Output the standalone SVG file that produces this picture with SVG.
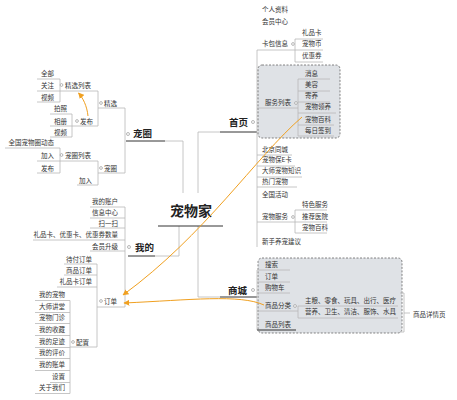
<svg xmlns="http://www.w3.org/2000/svg" width="457" height="400" viewBox="0 0 457 400">
<style>
text{font-family:"Noto Sans CJK SC","Noto Sans",sans-serif;fill:#333;font-size:6.5px}
.e{text-anchor:end}
.b{font-size:9.5px;font-weight:bold;fill:#222}
.c{font-size:14px;font-weight:bold;fill:#222;text-anchor:middle}
.l{stroke:#b8b8b8;stroke-width:0.8;fill:none}
.d{stroke:#333;stroke-width:1;fill:none}
.m{fill:#fff;stroke:#888;stroke-width:0.6}
.box{fill:#dfe2e6;stroke:#666;stroke-width:0.8;stroke-dasharray:2 1.5}
.o{stroke:#f0a020;stroke-width:1;fill:none;marker-end:url(#ah)}
</style>
<defs>
<marker id="ah" viewBox="0 0 10 10" refX="9" refY="5" markerWidth="6" markerHeight="6" orient="auto">
<path d="M0 0 L10 5 L0 10 z" fill="#f0a020"/>
</marker>
</defs>
<rect width="457" height="400" fill="#fff"/>

<g id="connectors">
<path class="l" d="M165 141 H183 V193"/>
<path class="l" d="M198 193 V132 H220"/>
<path class="l" d="M155 256 H179 V226"/>
<path class="l" d="M198 226 V297 H220"/>
</g>

<g id="center">
<text class="c" x="191" y="216">宠物家</text>
<line class="d" x1="158" y1="226" x2="223" y2="226" stroke-width="1.5"/>
</g>

<g id="chongquan">
<text class="b" x="133" y="137">宠圈</text>
<line class="d" x1="126" y1="141" x2="165" y2="141"/>
<circle class="m" cx="128" cy="134" r="1.5"/>
<path class="l" d="M125 108 V173"/>
<text x="104" y="105.5">精选</text><circle class="m" cx="101" cy="103" r="1.4"/>
<path class="l" d="M98 108 H125 M98 91 V126"/>
<text x="65" y="87.5">精选列表</text><circle class="m" cx="61.5" cy="85" r="1.4"/>
<path class="l" d="M60 91 H98"/>
<text class="e" x="54" y="75.5">全部</text>
<text class="e" x="54" y="87.5">关注</text>
<text class="e" x="54" y="99.5">视频</text>
<path class="l" d="M37 79 H60 M37 91 H60 M37 102 H60 M60 79 V102"/>
<text x="80" y="123.5">发布</text><circle class="m" cx="77" cy="121" r="1.4"/>
<path class="l" d="M72 126 H98"/>
<text class="e" x="67" y="110.5">拍照</text>
<text class="e" x="67" y="123.5">相册</text>
<text class="e" x="67" y="134.5">视频</text>
<path class="l" d="M50 114 H72 M50 126 H72 M50 137 H72 M72 114 V137"/>
<text x="104" y="170.5">宠圈</text><circle class="m" cx="101" cy="168" r="1.4"/>
<path class="l" d="M98 173 H125 M98 161 V185"/>
<text x="65" y="157.5">宠圈列表</text><circle class="m" cx="61.5" cy="155" r="1.4"/>
<path class="l" d="M60 161 H98"/>
<text class="e" x="92" y="182.5">加入</text>
<path class="l" d="M77 185 H98"/>
<text class="e" x="54" y="144.5">全国宠物圈动态</text>
<text class="e" x="54" y="157.5">加入</text>
<text class="e" x="54" y="170.5">发布</text>
<path class="l" d="M5 148 H60 M37 161 H60 M37 173 H60 M60 148 V173"/>
</g>

<g id="wode">
<text class="b" x="135" y="251">我的</text>
<line class="d" x1="128" y1="256" x2="155" y2="256"/>
<circle class="m" cx="129" cy="247" r="1.5"/>
<path class="l" d="M125 207 V307"/>
<text class="e" x="118" y="203.5">我的账户</text>
<text class="e" x="118" y="214.5">信息中心</text>
<text class="e" x="118" y="225.5">扫一扫</text>
<text class="e" x="118" y="236.5">礼品卡、优惠卡、优惠券数量</text>
<text class="e" x="118" y="248.5">会员升级</text>
<path class="l" d="M90 207 H125 M90 218 H125 M90 228 H125 M33 240 H125 M90 251 H125"/>
<text x="104" y="303.5">订单</text><circle class="m" cx="101" cy="301" r="1.4"/>
<path class="l" d="M97 307 H125"/>
<text class="e" x="92" y="261.5">待付订单</text>
<text class="e" x="92" y="272.5">商品订单</text>
<text class="e" x="92" y="283.5">礼品卡订单</text>
<path class="l" d="M64 264 H97 M64 275 H97 M57 287 H97 M97 264 V347"/>
<text x="76" y="344.5">配置</text><circle class="m" cx="73" cy="342" r="1.4"/>
<path class="l" d="M70 347 H97"/>
<text class="e" x="65" y="297.3">我的宠物</text>
<text class="e" x="65" y="309.3">大师讲堂</text>
<text class="e" x="65" y="320.3">宠物门诊</text>
<text class="e" x="65" y="332.3">我的收藏</text>
<text class="e" x="65" y="344.3">我的足迹</text>
<text class="e" x="65" y="355.3">我的评价</text>
<text class="e" x="65" y="367.3">我的账单</text>
<text class="e" x="65" y="379.3">设置</text>
<text class="e" x="65" y="390.3">关于我们</text>
<path class="l" d="M35 300.5 H70 M35 312.5 H70 M35 323.5 H70 M35 335.5 H70 M35 347.5 H70 M35 358.5 H70 M35 370.5 H70 M50 382.5 H70 M35 393.5 H70 M70 300.5 V393.5"/>
</g>

<g id="shouye">
<text class="b" x="229" y="126">首页</text>
<line class="d" x1="220" y1="132" x2="257" y2="132"/>
<circle class="m" cx="253" cy="122" r="1.5"/>
<path class="l" d="M257 50 V247"/>
<text x="262" y="12.3">个人资料</text>
<text x="262" y="24.3">会员中心</text>
<text x="262" y="46.3">卡包信息</text><circle class="m" cx="293" cy="44" r="1.4"/>
<path class="l" d="M257 50 H295"/>
<text x="302" y="35.3">礼品卡</text>
<text x="302" y="46.3">宠物币</text>
<text x="302" y="58.3">优惠券</text>
<path class="l" d="M295 39 H323 M295 50 H323 M295 62 H323 M295 39 V62"/>
<rect class="box" x="258" y="65" width="82" height="73" rx="4"/>
<text x="265" y="105.3">服务列表</text><circle class="m" cx="296" cy="103" r="1.4"/>
<path class="l" d="M257 108 H298"/>
<text x="305" y="76.3">消息</text>
<text x="305" y="87.3">美容</text>
<text x="305" y="98.3">寄养</text>
<text x="305" y="109.3">宠物领养</text>
<text x="305" y="122.3">宠物百科</text>
<text x="305" y="133.3">每日签到</text>
<path class="l" d="M298 79 H330 M298 91 H330 M298 102 H330 M298 113 H336 M298 125 H334 M298 136 H334 M298 79 V136"/>
<text x="262" y="152.3">北京同城</text>
<text x="262" y="162.3">宠物保E卡</text>
<text x="262" y="173.3">大师宠物知识</text>
<text x="262" y="184.3">热门宠物</text>
<text x="262" y="197.3">全国活动</text>
<path class="l" d="M257 155 H292 M257 166 H295 M257 177 H302 M257 187 H297"/>
<text x="262" y="219.3">宠物服务</text><circle class="m" cx="293" cy="217" r="1.4"/>
<path class="l" d="M257 222 H295"/>
<text x="302" y="207.3">特色服务</text>
<text x="302" y="219.3">推荐医院</text>
<text x="302" y="230.3">宠物百科</text>
<path class="l" d="M295 210 H327 M295 222 H327 M295 233 H327 M295 210 V233"/>
<text x="262" y="244.3">新手养宠建议</text>
</g>

<g id="shangcheng">
<text class="b" x="228" y="294">商城</text>
<line class="d" x1="220" y1="297" x2="257" y2="297"/>
<circle class="m" cx="253" cy="290" r="1.5"/>
<rect class="box" x="258" y="258" width="144" height="75" rx="4"/>
<path class="l" d="M257 270 V330"/>
<text x="265" y="267.3">搜索</text>
<text x="265" y="279.3" fill="#777">订单</text>
<text x="265" y="290.3">购物车</text>
<path class="l" d="M257 270 H290 M257 282 H290 M257 293 H290"/>
<text x="265" y="308.3">商品分类</text><circle class="m" cx="295" cy="306" r="1.4"/>
<path class="l" d="M257 311 H298"/>
<text x="265" y="327.3">商品列表</text>
<path class="d" d="M257 330 H296" stroke-width="0.8"/>
<text x="305" y="303.3">主粮、零食、玩具、出行、医疗</text>
<text x="305" y="314.3">营养、卫生、清洁、服饰、水具</text>
<path class="l" d="M298 306 H398 M298 318 H398 M298 306 V318"/>
<path class="l" d="M400 293 H404 V332 H400 M404 313 H410"/>
<text x="413" y="317.3">商品详情页</text>
</g>

<g id="relations">
<path class="o" d="M88 116 C87 106 83 98 78.5 93"/>
<path class="o" d="M302 117 C255 158 205 235 123 295"/>
<path class="o" d="M264 305 C240 294 190 300 124 303"/>
</g>
</svg>
